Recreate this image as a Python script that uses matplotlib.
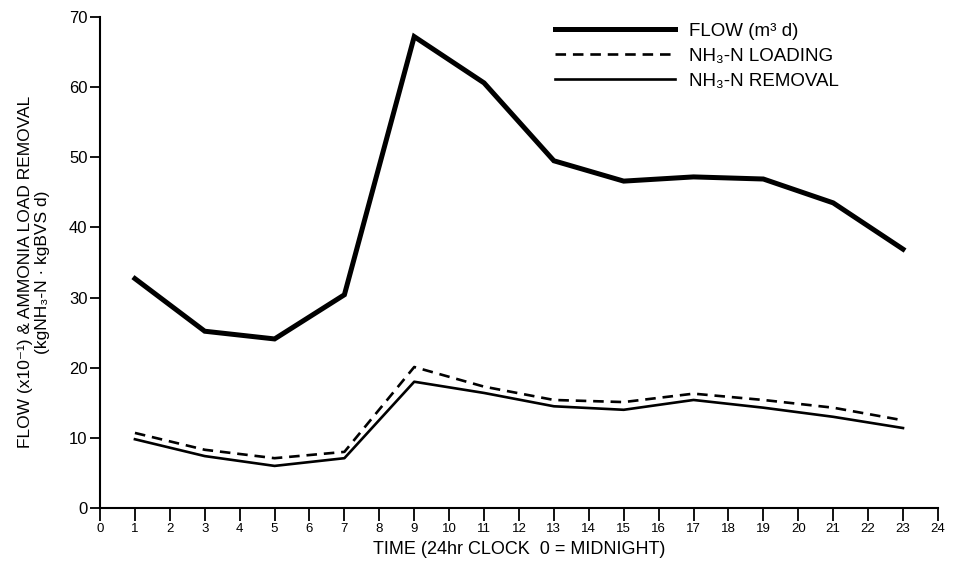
import matplotlib
matplotlib.use("Agg")
import matplotlib.pyplot as plt

# ============================================================
# DATA  (hourly samples, odd hours of the day)
# ============================================================
HOURS = [1, 3, 5, 7, 9, 11, 13, 15, 17, 19, 21, 23]
FLOW = [32.7, 25.2, 24.1, 30.4, 67.2, 60.6, 49.5, 46.6, 47.2, 46.9, 43.5, 36.9]
NH3_LOADING = [10.7, 8.3, 7.1, 8.0, 20.1, 17.3, 15.4, 15.1, 16.3, 15.4, 14.3, 12.5]
NH3_REMOVAL = [9.8, 7.4, 6.0, 7.1, 18.0, 16.4, 14.5, 14.0, 15.4, 14.3, 13.0, 11.4]

X_TICKS = list(range(0, 25))
Y_TICKS = [0, 10, 20, 30, 40, 50, 60, 70]

LABELS = ["FLOW (m\u00b3 d)", "NH\u2083-N LOADING", "NH\u2083-N REMOVAL"]

plt.rcParams["font.family"] = ["Liberation Sans", "DejaVu Sans"]


def main():
    fig = plt.figure(figsize=(9.59, 5.64), dpi=100)
    ax = fig.add_axes([0.1043, 0.0993, 0.8737, 0.8706])

    ax.plot(HOURS, FLOW, color="black", lw=3.6, solid_joinstyle="miter",
            label=LABELS[0])
    ax.plot(HOURS, NH3_LOADING, color="black", lw=1.9, ls=(0, (4, 2.6)),
            label=LABELS[1])
    ax.plot(HOURS, NH3_REMOVAL, color="black", lw=1.9, label=LABELS[2])

    ax.set_xlim(0, 24)
    ax.set_ylim(0, 70)
    ax.set_xticks(X_TICKS)
    ax.set_yticks(Y_TICKS)
    ax.tick_params(axis="y", direction="out", length=7, width=1.3,
                   labelsize=12, pad=2)
    ax.tick_params(axis="x", direction="out", length=9, width=1.3,
                   labelsize=9.5, pad=2)

    for side in ("top", "right"):
        ax.spines[side].set_visible(False)
    for side in ("left", "bottom"):
        ax.spines[side].set_linewidth(1.5)

    ax.set_xlabel("TIME (24hr CLOCK  0 = MIDNIGHT)", fontsize=13, labelpad=4)
    ax.set_ylabel("FLOW (x10\u207b\u00b9) & AMMONIA LOAD REMOVAL\n"
                  "(kgNH\u2083-N \u00b7 kgBVS d)",
                  fontsize=12.5, linespacing=1.15)
    ax.yaxis.set_label_coords(-0.06, 0.48)

    ax.legend(loc="upper left", bbox_to_anchor=(0.5787, 0.96),
              bbox_transform=fig.transFigure, frameon=False,
              fontsize=13.5, handlelength=6.4, handletextpad=0.75,
              labelspacing=0.42, borderpad=0, borderaxespad=0)

    fig.savefig("out.png", dpi=100)
    plt.close(fig)


if __name__ == "__main__":
    main()
